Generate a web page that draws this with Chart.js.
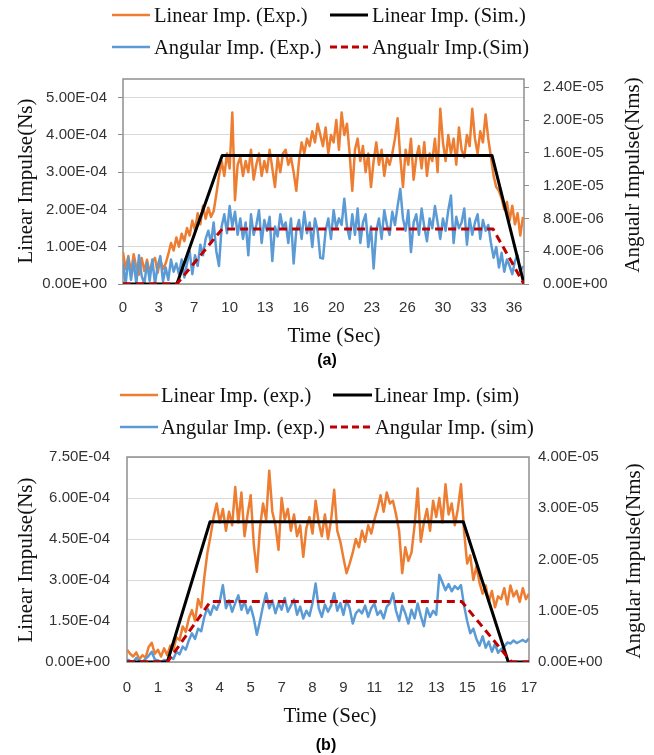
<!DOCTYPE html>
<html>
<head>
<meta charset="utf-8">
<script src="https://cdn.jsdelivr.net/npm/chart.js@4/dist/chart.umd.min.js"></script>
<style>
  html, body { margin:0; padding:0; background:#fff; }
  body { width:654px; height:755px; position:relative; overflow:hidden; }
  canvas { position:absolute; left:0; }
  .lg { position:absolute; font-family:"Liberation Serif","Times New Roman",serif; font-size:20.5px; color:#111; white-space:nowrap; line-height:1; transform:translateY(-50%); }
  .sw { position:absolute; }
  .ttl { position:absolute; font-family:"Liberation Serif","Times New Roman",serif; font-size:21px; color:#111; white-space:nowrap; line-height:1; transform:translate(-50%,-50%); }
  .rot { transform:translate(-50%,-50%) rotate(-90deg); }
  .cap { position:absolute; font-family:"Liberation Sans",Arial,sans-serif; font-weight:bold; font-size:16px; color:#000; transform:translate(-50%,-50%); line-height:1; }
</style>
</head>
<body>
<canvas id="c1" width="654" height="345" style="top:0"></canvas>
<canvas id="c2" width="654" height="375" style="top:380px"></canvas>

<!-- legend (a) -->
<svg class="sw" style="left:112px;top:12px" width="38" height="6"><line x1="0" y1="3" x2="38" y2="3" stroke="#ED7D31" stroke-width="2.5"/></svg>
<div class="lg" style="left:154px;top:15px">Linear Imp. (Exp.)</div>
<svg class="sw" style="left:330px;top:12px" width="38" height="6"><line x1="0" y1="3" x2="38" y2="3" stroke="#000" stroke-width="3"/></svg>
<div class="lg" style="left:372px;top:15px">Linear Imp. (Sim.)</div>
<svg class="sw" style="left:112px;top:44px" width="38" height="6"><line x1="0" y1="3" x2="38" y2="3" stroke="#5B9BD5" stroke-width="2.5"/></svg>
<div class="lg" style="left:154px;top:47px">Angular Imp. (Exp.)</div>
<svg class="sw" style="left:330px;top:44px" width="38" height="6"><line x1="0" y1="3" x2="38" y2="3" stroke="#C00000" stroke-width="3" stroke-dasharray="7,4"/></svg>
<div class="lg" style="left:372px;top:47px">Angualr Imp.(Sim)</div>

<div class="ttl rot" style="left:25px;top:181px">Linear Impulse(Ns)</div>
<div class="ttl rot" style="left:632px;top:175px">Angualr Impulse(Nms)</div>
<div class="ttl" style="left:334px;top:335px">Time (Sec)</div>
<div class="cap" style="left:327px;top:360px">(a)</div>

<!-- legend (b) -->
<svg class="sw" style="left:120px;top:392px" width="38" height="6"><line x1="0" y1="3" x2="38" y2="3" stroke="#ED7D31" stroke-width="2.5"/></svg>
<div class="lg" style="left:161px;top:395px">Linear Imp. (exp.)</div>
<svg class="sw" style="left:333px;top:392px" width="39" height="6"><line x1="0" y1="3" x2="39" y2="3" stroke="#000" stroke-width="3"/></svg>
<div class="lg" style="left:374px;top:395px">Linear Imp. (sim)</div>
<svg class="sw" style="left:120px;top:424px" width="38" height="6"><line x1="0" y1="3" x2="38" y2="3" stroke="#5B9BD5" stroke-width="2.5"/></svg>
<div class="lg" style="left:161px;top:427px">Angular Imp. (exp.)</div>
<svg class="sw" style="left:330px;top:424px" width="42" height="6"><line x1="0" y1="3" x2="42" y2="3" stroke="#C00000" stroke-width="3" stroke-dasharray="7,4"/></svg>
<div class="lg" style="left:375px;top:427px">Angular Imp. (sim)</div>

<div class="ttl rot" style="left:25px;top:560px">Linear Impulse(Ns)</div>
<div class="ttl rot" style="left:633px;top:561px">Angular Impulse(Nms)</div>
<div class="ttl" style="left:330px;top:715px">Time (Sec)</div>
<div class="cap" style="left:326px;top:745px">(b)</div>

<script>
// ---------------- DATA: chart (a) ----------------
const topXTickLabels = ['0','3','7','10','13','16','20','23','26','30','33','36'];
const topXTickStep = 10/3;       // seconds between category labels
const topXMax = 37.6;
const topSampleDt = 0.25;        // s between experimental samples
const topLeftTicks  = [0, 1e-4, 2e-4, 3e-4, 4e-4, 5e-4];
const topLeftMax = 5.5e-4;
const topRightTicks = [0, 4e-6, 8e-6, 1.2e-5, 1.6e-5, 2.0e-5, 2.4e-5];
const topRightMax = 2.5e-5;

// Linear impulse (Exp.), units of 1e-4 Ns
const topLinearExp = [
 0.85,0.4,0.75,0.3,0.8,0.45,0.25,0.7,0.35,0.65,0.3,0.6,0.7,0.3,0.65,0.4,0.55,0.8,1.1,0.9,1.25,
 1.0,1.35,1.15,1.5,1.3,1.7,1.45,1.9,1.6,2.1,1.75,
 2.05,1.8,1.95,2.4,2.9,
 3.3,2.9,3.5,3.1,4.6,2.25,3.2,
 3.4,2.9,3.3,3.0,3.6,2.8,3.2,3.5,2.9,3.3,3.0,3.6,3.1,2.6,3.4,3.0,3.5,
 3.6,3.2,3.4,3.0,2.5,3.3,3.8,3.5,3.9,3.7,4.1,3.8,4.3,4.0,
 3.7,4.2,3.5,4.0,3.8,4.4,3.6,4.6,4.0,4.3,3.5,2.5,
 3.6,3.9,3.3,3.7,3.0,3.5,2.6,3.3,3.8,3.2,3.6,2.9,3.4,
 3.2,3.5,3.9,4.45,3.4,2.6,3.6,3.2,3.9,2.8,3.4,3.7,3.1,3.8,2.9,3.5,3.3,3.9,3.0,
 4.7,3.8,3.3,4.0,3.5,3.9,3.2,4.2,3.6,3.4,4.0,3.7,4.7,3.9,3.5,4.1,3.8,4.55,3.9,
 3.4,2.9,2.6,2.5,2.3,2.0,2.2,1.7,2.1,1.6,1.9,1.3,1.8
];
// Angular impulse (Exp.), units of 1e-6 Nms
const topAngularExp = [
 2.5,0,3.2,0.5,2.8,0,3.5,1.0,0,2.6,0.4,3.0,0,2.2,3.4,0.3,2.0,0.5,3.0,1.5,2.5,
 1.2,3.0,0.8,2.5,4.0,1.2,3.5,2.2,4.8,3.5,5.5,
 6.5,5.0,7.5,4.0,2.2,
 7.0,8.5,6.2,9.5,7.0,8.8,6.0,
 8.0,5.5,7.5,3.5,8.5,6.0,7.2,9.0,5.0,7.8,6.5,8.2,2.8,7.0,5.8,8.5,6.8,
 7.5,5.0,8.0,2.5,6.5,7.8,5.5,8.8,6.2,7.5,4.5,8.0,6.5,3.2,
 3.1,6.5,8.0,5.5,9.0,6.8,8.0,7.2,10.4,7.0,5.5,8.5,
 6.0,9.2,5.0,7.5,8.5,4.5,7.0,1.9,6.5,8.0,5.5,9.0,7.2,
 6.0,8.8,7.2,9.5,11.6,8.0,6.5,9.0,3.9,7.5,8.5,6.0,9.2,7.0,5.2,8.0,6.8,9.5,7.5,
 5.5,8.0,6.5,9.0,10.8,5.0,8.2,6.8,7.5,9.2,4.8,8.0,6.0,7.5,8.5,5.5,7.8,6.5,7.2,
 5.0,3.2,4.5,2.0,3.8,1.5,3.0,2.2,1.2,2.8,3.5,1.5,2.2
];
// Simulation breakpoints
const topSimLinTimes = [0, 5.05, 9.3, 34.6, 37.6];
const topSimLinear   = [0, 0, 3.45, 3.45, 0];      // 1e-4 Ns
const topSimAngTimes = [0, 5.05, 9.3, 34.7, 37.6];
const topSimAngular  = [0, 0, 6.7, 6.7, 0];        // 1e-6 Nms

// ---------------- DATA: chart (b) ----------------
const botXTickLabels = ['0','1','3','4','5','7','8','9','11','12','13','15','16','17'];
const botXTickStep = 4/3;
const botXMax = 52/3;
const botSampleDt = 4/30;
const botLeftTicks  = [0, 1.5e-4, 3.0e-4, 4.5e-4, 6.0e-4, 7.5e-4];
const botLeftMax = 7.5e-4;
const botRightTicks = [0, 1e-5, 2e-5, 3e-5, 4e-5];
const botRightMax = 4e-5;

// Linear impulse (exp.), units of 1e-4 Ns
const botLinearExp = [
 0.45,0.3,0.2,0.35,0.1,0.25,0.15,0.55,0.7,0.3,0.45,0.2,0.5,
 0.25,0.6,0.45,0.9,0.8,1.3,1.1,1.6,1.9,1.5,2.3,2.0,
 3.1,4.0,4.6,
 5.3,5.8,5.1,5.6,
 4.8,5.5,5.0,6.4,5.1,6.2,4.6,5.4,6.1,4.3,3.3,4.9,
 5.8,5.2,7.0,5.5,
 5.0,4.1,6.0,5.2,5.6,4.8,5.4,4.6,5.0,3.85,4.9,
 5.3,4.7,5.9,5.1,4.6,5.4,
 4.5,5.2,6.3,4.8,
 4.4,3.8,3.25,3.6,
 4.0,4.5,4.2,4.8,4.4,5.0,4.7,5.2,
 5.6,6.1,5.5,6.2,5.8,5.9,5.4,
 4.8,3.25,
 4.2,3.7,4.0,
 5.0,6.35,
 4.4,5.1,
 5.6,4.8,5.9,5.3,6.0,5.1,6.5,5.4,5.8,5.0,5.6,6.5,
 4.8,3.6,3.9,3.0,3.5,
 2.9,2.5,2.8,2.2,2.6,2.0,2.4,
 2.3,2.7,2.1,2.8,2.4,2.6,2.2,2.7,2.3,2.5
];
// Angular impulse (exp.), units of 1e-6 Nms
const botAngularExp = [
 0.5,0.2,0,0.8,0.3,0,0.6,1.2,2.0,0.5,0.3,0,0.4,
 0.3,1.0,0.6,2.0,1.5,3.0,2.4,4.2,5.6,4.5,6.5,6.0,
 8.8,10.5,9.2,11.0,10.2,11.8,
 15.0,
 10.5,12.0,9.8,11.5,13.0,10.2,11.8,9.5,10.8,8.5,5.3,8.0,
 11.0,13.4,10.5,12.0,9.5,11.5,10.2,12.5,9.8,11.0,12.2,9.2,10.8,8.5,10.0,
 9.0,11.5,15.3,10.5,8.8,11.2,
 9.8,11.0,13.4,10.0,11.5,9.2,12.0,10.5,7.5,9.5,10.2,
 9.5,11.0,8.8,10.5,11.4,9.2,10.0,8.5,10.8,11.5,
 13.4,
 10.0,8.0,11.0,9.5,7.5,10.2,8.5,11.4,9.0,7.0,10.5,8.8,10.0,9.2,
 17.0,15.5,14.0,15.2,13.8,14.8,14.2,15.0,
 11.0,8.0,5.6,
 6.5,4.5,3.2,5.0,2.8,4.0,2.0,3.5,1.8,
 2.5,3.0,3.8,3.6,4.2,3.7,4.0,4.3,3.9,4.6
];
const botSimLinTimes = [0, 1.74, 3.58, 14.5, 16.44, 52/3];
const botSimLinear   = [0, 0, 5.13, 5.13, 0, 0];   // 1e-4 Ns
const botSimAngTimes = [0, 1.74, 3.6, 14.43, 16.58, 52/3];
const botSimAngular  = [0, 0, 11.8, 11.8, 0, 0];   // 1e-6 Nms

// ---------------- helpers ----------------
const LIN_UNIT = 1e-4, ANG_UNIT = 1e-6;
function sci(v) {
  if (Math.abs(v) < 1e-15) return '0.00E+00';
  const [m, e] = v.toExponential(2).split('e');
  const n = parseInt(e, 10);
  return m + 'E' + (n < 0 ? '-' : '+') + String(Math.abs(n)).padStart(2, '0');
}
function sampled(vals, dt, unit) { return vals.map((v, i) => ({ x: i * dt, y: v * unit })); }
function paired(times, vals, unit) { return times.map((t, i) => ({ x: t, y: vals[i] * unit })); }

const frame = {
  id: 'frame',
  beforeDatasetsDraw(chart) {
    const a = chart.chartArea, c = chart.ctx;
    c.save(); c.strokeStyle = '#8f8f8f'; c.lineWidth = 1.5;
    c.strokeRect(a.left, a.top, a.right - a.left, a.bottom - a.top);
    c.restore();
  }
};

const tickFont = { family: '"Liberation Sans", Arial, sans-serif', size: 15 };
const tickColor = '#333333';

function makeChart(id, cfg) {
  const ds = [
    { label: cfg.names[0], data: sampled(cfg.linExp, cfg.dt, LIN_UNIT), yAxisID: 'yL', borderColor: '#ED7D31', borderWidth: 2.5, order: 4 },
    { label: cfg.names[1], data: paired(cfg.linSimT, cfg.linSim, LIN_UNIT), yAxisID: 'yL', borderColor: '#000000', borderWidth: 3, order: 1 },
    { label: cfg.names[2], data: sampled(cfg.angExp, cfg.dt, ANG_UNIT), yAxisID: 'yR', borderColor: '#5B9BD5', borderWidth: 2.5, order: 3 },
    { label: cfg.names[3], data: paired(cfg.angSimT, cfg.angSim, ANG_UNIT), yAxisID: 'yR', borderColor: '#C00000', borderWidth: 3, borderDash: [8, 5], order: 0 }
  ];
  ds.forEach(d => { d.pointRadius = 0; d.tension = 0; d.fill = false; d.borderJoinStyle = 'round'; });
  return new Chart(document.getElementById(id), {
    type: 'line',
    data: { datasets: ds },
    options: {
      responsive: false, animation: false, devicePixelRatio: 1,
      layout: { padding: { top: cfg.padTop, left: 0, right: 0, bottom: 0 } },
      plugins: { legend: { display: false }, tooltip: { enabled: false } },
      scales: {
        x: {
          type: 'linear', min: 0, max: cfg.xMax,
          afterBuildTicks: s => { s.ticks = cfg.xLabels.map((_, i) => ({ value: i * cfg.xStep })); },
          afterFit: s => { s.height = cfg.xHeight; },
          ticks: { autoSkip: false, maxRotation: 0, padding: cfg.xPad, font: tickFont, color: tickColor,
                   callback: (v, i) => cfg.xLabels[i] },
          grid: { display: false, drawTicks: false },
          border: { display: false }
        },
        yL: {
          type: 'linear', position: 'left', min: 0, max: cfg.lMax,
          afterBuildTicks: s => { s.ticks = cfg.lTicks.map(v => ({ value: v })); },
          afterFit: s => { s.width = cfg.lWidth; },
          ticks: { padding: cfg.lPad, font: tickFont, color: tickColor, callback: v => sci(v) },
          grid: { color: '#d9d9d9', lineWidth: 1, drawTicks: cfg.lTickLen > 0, tickLength: cfg.lTickLen, tickColor: '#8f8f8f' },
          border: { display: false }
        },
        yR: {
          type: 'linear', position: 'right', min: 0, max: cfg.rMax,
          afterBuildTicks: s => { s.ticks = cfg.rTicks.map(v => ({ value: v })); },
          afterFit: s => { s.width = cfg.rWidth; },
          ticks: { padding: cfg.rPad, font: tickFont, color: tickColor, callback: v => sci(v) },
          grid: { drawOnChartArea: false, drawTicks: cfg.rTickLen > 0, tickLength: cfg.rTickLen, tickColor: '#8f8f8f' },
          border: { display: false }
        }
      }
    },
    plugins: [frame]
  });
}

makeChart('c1', {
  names: ['Linear Imp. (Exp.)', 'Linear Imp. (Sim.)', 'Angular Imp. (Exp.)', 'Angualr Imp.(Sim)'],
  linExp: topLinearExp, angExp: topAngularExp, dt: topSampleDt,
  linSimT: topSimLinTimes, linSim: topSimLinear, angSimT: topSimAngTimes, angSim: topSimAngular,
  xLabels: topXTickLabels, xStep: topXTickStep, xMax: topXMax,
  lTicks: topLeftTicks, lMax: topLeftMax, rTicks: topRightTicks, rMax: topRightMax,
  padTop: 79, xHeight: 61, xPad: 15, lWidth: 123, rWidth: 130,
  lPad: 11, lTickLen: 5, rPad: 14, rTickLen: 5
});

makeChart('c2', {
  names: ['Linear Imp. (exp.)', 'Linear Imp. (sim)', 'Angular Imp. (exp.)', 'Angular Imp. (sim)'],
  linExp: botLinearExp, angExp: botAngularExp, dt: botSampleDt,
  linSimT: botSimLinTimes, linSim: botSimLinear, angSimT: botSimAngTimes, angSim: botSimAngular,
  xLabels: botXTickLabels, xStep: botXTickStep, xMax: botXMax,
  lTicks: botLeftTicks, lMax: botLeftMax, rTicks: botRightTicks, rMax: botRightMax,
  padTop: 77, xHeight: 93, xPad: 17, lWidth: 127, rWidth: 125,
  lPad: 17, lTickLen: 0, rPad: 9, rTickLen: 0
});
</script>
</body>
</html>
